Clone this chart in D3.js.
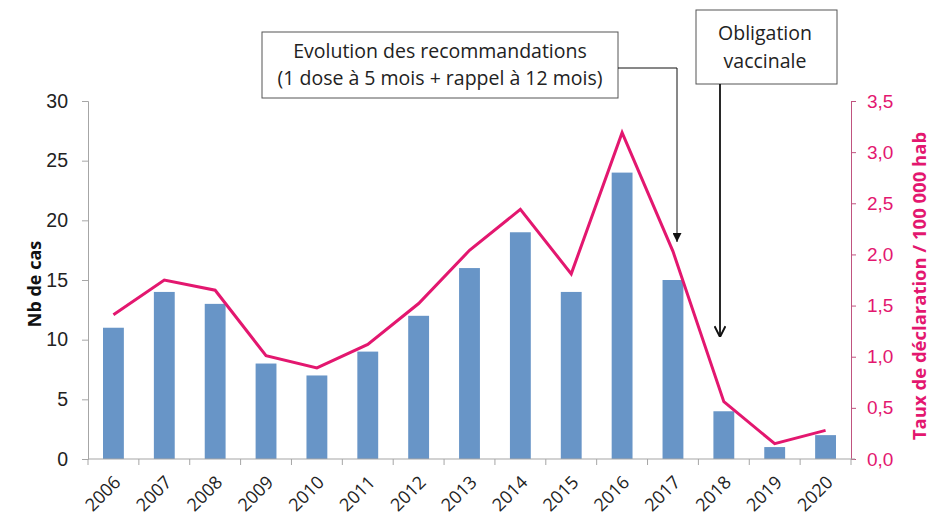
<!DOCTYPE html>
<html>
<head>
<meta charset="utf-8">
<script src="https://cdn.jsdelivr.net/npm/d3@7"></script>
<style>
  body { margin: 0; background: #fff; }
  svg { display: block; font-family: "Open Sans", "Noto Sans", sans-serif; }
</style>
</head>
<body>
<svg id="chart" width="934" height="519"></svg>
<script>
// Years, reported cases (bars) and notification rate per 100 000 (line)
const years = ["2006","2007","2008","2009","2010","2011","2012","2013","2014","2015","2016","2017","2018","2019","2020"];
const cases = [11, 14, 13, 8, 7, 9, 12, 16, 19, 14, 24, 15, 4, 1, 2];
const rates = [1.41, 1.75, 1.65, 1.01, 0.89, 1.12, 1.52, 2.04, 2.44, 1.81, 3.19, 2.03, 0.56, 0.15, 0.28];
const leftTicks = [0, 5, 10, 15, 20, 25, 30];
const rightTicks = [0, 0.5, 1, 1.5, 2, 2.5, 3, 3.5];

const svg = d3.select("#chart");
const plotL = 88, plotR = 851, plotT = 101, plotB = 459;

const x = d3.scaleBand().domain(years).range([plotL, plotR]).paddingInner(0.59).paddingOuter(0.295);
const xb = d3.scaleBand().domain(years).range([plotL, plotR]);
const yL = d3.scaleLinear().domain([0, 30]).range([plotB, plotT]);
const yR = d3.scaleLinear().domain([0, 3.5]).range([plotB, plotT]);

const pink = "#E3176F";
const gray = "#A6A6A6";

// Left axis
const gL = svg.append("g").attr("transform", `translate(${plotL},0)`)
  .call(d3.axisLeft(yL).tickValues(leftTicks).tickSize(6).tickPadding(14));
gL.select(".domain").attr("stroke", gray);
gL.selectAll(".tick line").attr("stroke", gray);
gL.selectAll(".tick text").attr("font-size", 19.5).attr("fill", "#222");

// Right axis
const fmt = d => d3.format(".1f")(d).replace(".", ",");
const gR = svg.append("g").attr("transform", `translate(${plotR},0)`)
  .call(d3.axisRight(yR).tickValues(rightTicks).tickFormat(fmt).tickSize(5).tickPadding(11));
gR.select(".domain").attr("stroke", "#C0537F");
gR.selectAll(".tick line").attr("stroke", "#C0537F");
gR.selectAll(".tick text").attr("font-size", 19).attr("fill", pink);

// Bars
svg.append("g").selectAll("rect").data(years).join("rect")
  .attr("x", d => x(d))
  .attr("width", x.bandwidth())
  .attr("y", (d, i) => yL(cases[i]))
  .attr("height", (d, i) => yL(0) - yL(cases[i]))
  .attr("fill", "#6895C7");

// Bottom axis with ticks at category boundaries
const gx = svg.append("g");
gx.append("line").attr("x1", plotL).attr("x2", plotR + 4).attr("y1", plotB).attr("y2", plotB)
  .attr("stroke", gray).attr("stroke-width", 1.2);
gx.selectAll("line.tk").data(years.concat(["end"])).join("line").attr("class", "tk")
  .attr("x1", (d, i) => plotL + i * xb.step()).attr("x2", (d, i) => plotL + i * xb.step())
  .attr("y1", plotB).attr("y2", plotB + 6).attr("stroke", gray);
gx.selectAll("text").data(years).join("text")
  .attr("transform", d => `translate(${xb(d) + xb.bandwidth() / 2 + 4},${plotB + 20}) rotate(-45)`)
  .attr("text-anchor", "end").attr("dy", "0.35em")
  .attr("font-size", 18).attr("fill", "#222")
  .text(d => d);

// Rate line
const line = d3.line()
  .x((d, i) => xb(years[i]) + xb.bandwidth() / 2)
  .y(d => yR(d));
svg.append("path").datum(rates).attr("d", line)
  .attr("fill", "none").attr("stroke", pink).attr("stroke-width", 3).attr("stroke-linejoin", "miter");

// Axis titles
svg.append("text").attr("transform", `translate(41,284) rotate(-90)`)
  .attr("text-anchor", "middle").attr("font-size", 18).attr("font-weight", "bold").attr("fill", "#111")
  .text("Nb de cas");
svg.append("text").attr("transform", `translate(926,286) rotate(-90)`)
  .attr("text-anchor", "middle").attr("font-size", 18.5).attr("font-weight", "bold").attr("fill", pink)
  .text("Taux de déclaration / 100 000 hab");

// Annotations
const defs = svg.append("defs");
defs.append("marker").attr("id", "tri").attr("viewBox", "0 0 10 10").attr("refX", 10).attr("refY", 5)
  .attr("markerWidth", 9).attr("markerHeight", 9).attr("markerUnits", "userSpaceOnUse").attr("orient", "auto")
  .append("path").attr("d", "M0,0 L10,5 L0,10 Z").attr("fill", "#111");
defs.append("marker").attr("id", "vee").attr("viewBox", "0 0 10 10").attr("refX", 10).attr("refY", 5)
  .attr("markerWidth", 12).attr("markerHeight", 12).attr("markerUnits", "userSpaceOnUse").attr("orient", "auto")
  .append("path").attr("d", "M1,0.5 L10,5 L1,9.5").attr("fill", "none").attr("stroke", "#111").attr("stroke-width", 1.6);

// Box 1: recommendations change
svg.append("rect").attr("x", 262).attr("y", 32).attr("width", 356).attr("height", 66)
  .attr("fill", "#fff").attr("stroke", "#555").attr("stroke-width", 1);
svg.append("text").attr("x", 440).attr("y", 58).attr("text-anchor", "middle").attr("font-size", 19.5).attr("fill", "#222")
  .text("Evolution des recommandations");
svg.append("text").attr("x", 440).attr("y", 85).attr("text-anchor", "middle").attr("font-size", 19.5).attr("fill", "#222")
  .text("(1 dose à 5 mois + rappel à 12 mois)");
svg.append("path").attr("d", `M618,68 H677 V242`)
  .attr("fill", "none").attr("stroke", "#111").attr("stroke-width", 1).attr("marker-end", "url(#tri)");

// Box 2: mandatory vaccination
svg.append("rect").attr("x", 696).attr("y", 10).attr("width", 141).attr("height", 74)
  .attr("fill", "#fff").attr("stroke", "#555").attr("stroke-width", 1);
svg.append("text").attr("x", 765).attr("y", 40).attr("text-anchor", "middle").attr("font-size", 19.5).attr("fill", "#222")
  .text("Obligation");
svg.append("text").attr("x", 765).attr("y", 68).attr("text-anchor", "middle").attr("font-size", 19.5).attr("fill", "#222")
  .text("vaccinale");
svg.append("path").attr("d", `M720,84 V337`)
  .attr("fill", "none").attr("stroke", "#111").attr("stroke-width", 1.8).attr("marker-end", "url(#vee)");
</script>
</body>
</html>
